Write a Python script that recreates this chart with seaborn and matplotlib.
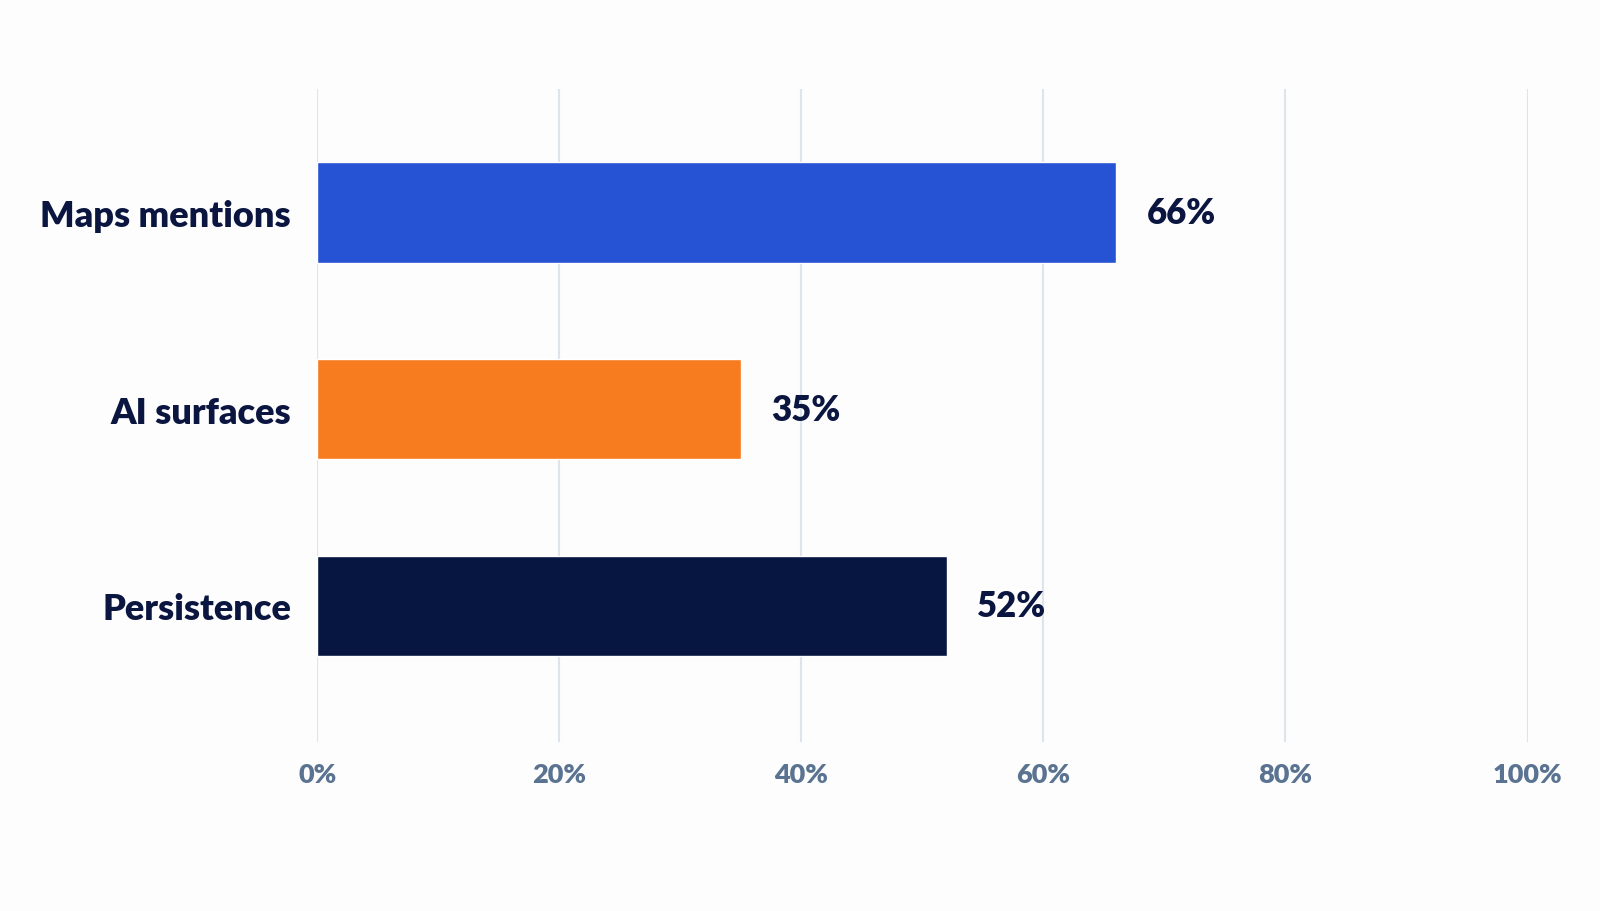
import matplotlib
matplotlib.use("Agg")
import matplotlib.pyplot as plt
import seaborn as sns
import pandas as pd

categories = ["Maps mentions", "AI surfaces", "Persistence"]
values = [66, 35, 52]
colors = ["#2652d4", "#f77b1f", "#061641"]
x_ticks = [0, 20, 40, 60, 80, 100]
x_tick_labels = ["0%", "20%", "40%", "60%", "80%", "100%"]

sns.set_theme(style="white")
plt.rcParams["font.family"] = ["Lato", "DejaVu Sans"]

df = pd.DataFrame({"category": categories, "value": values})

fig = plt.figure(figsize=(16, 9.12), dpi=100, facecolor="#fdfdfe")
ax = fig.add_axes([0.1983, 0.1857, 0.7564, 0.7159])
ax.set_facecolor("#fdfdfe")

sns.barplot(data=df, x="value", y="category", hue="category", palette=colors,
            order=categories, hue_order=categories, width=0.51, legend=False,
            saturation=1, ax=ax, zorder=2)

ax.set_xlim(0, 100)
ax.set_ylim(2.69, -0.63)
ax.set_xticks(x_ticks)
ax.set_xticklabels(x_tick_labels)
ax.xaxis.grid(True, color="#dde4ec", linewidth=1.5, zorder=0)
ax.yaxis.grid(False)
for s in ax.spines.values():
    s.set_visible(False)
ax.set_xlabel("")
ax.set_ylabel("")
ax.tick_params(axis="x", length=0, pad=15, labelsize=19.5, labelcolor="#5a7391")
ax.tick_params(axis="y", length=0, pad=19, labelsize=26, labelcolor="#0b1640")
for lab in ax.get_xticklabels():
    lab.set_fontweight("heavy")
for lab in ax.get_yticklabels():
    lab.set_fontweight("heavy")

for i, v in enumerate(values):
    ax.annotate(f"{v}%", xy=(v, i), xytext=(22, 0), textcoords="offset points",
                va="center", ha="left", fontsize=25, fontweight="heavy",
                color="#0b1640")

fig.savefig("out.png", dpi=100, facecolor=fig.get_facecolor())
